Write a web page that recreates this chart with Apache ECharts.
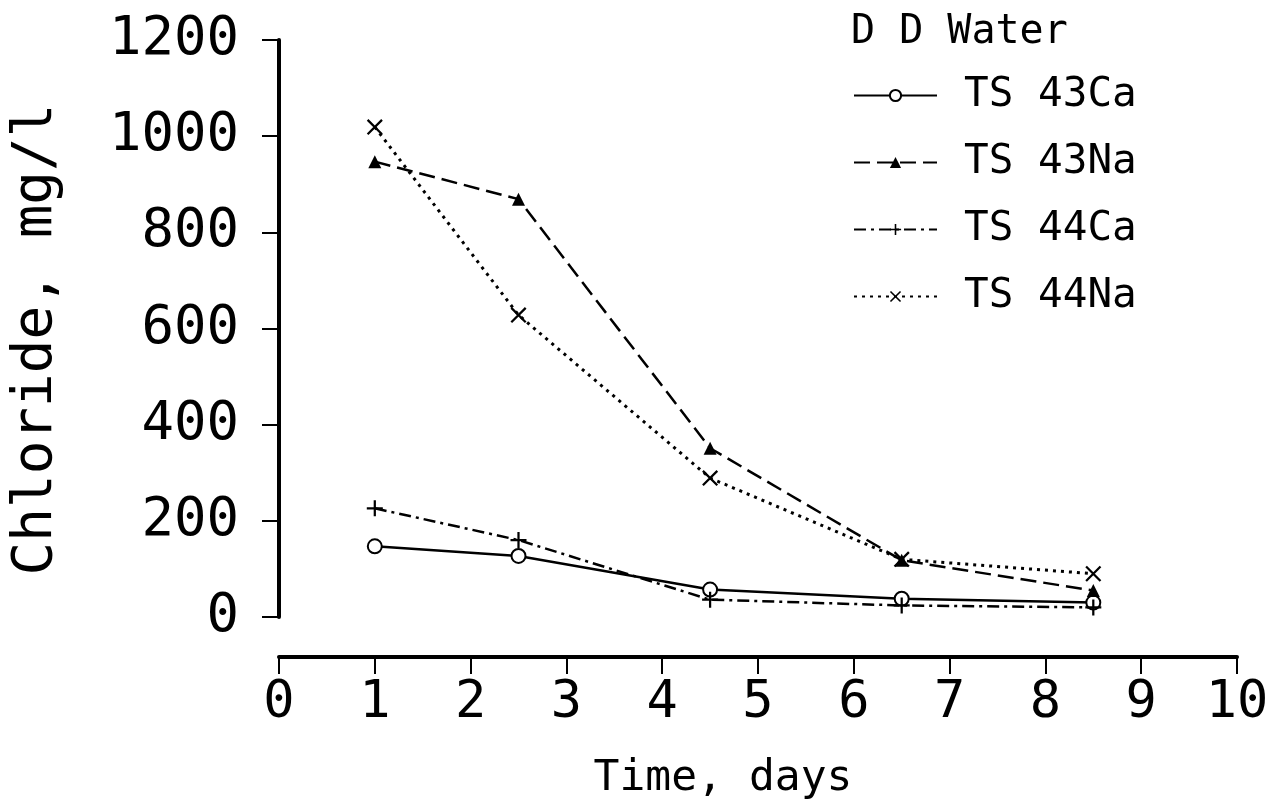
<!DOCTYPE html>
<html>
<head>
<meta charset="utf-8">
<script src="https://cdn.jsdelivr.net/npm/echarts@6/dist/echarts.min.js"></script>
<style>
html,body{margin:0;padding:0;background:#fff;}
#chart{width:1287px;height:805px;}
</style>
</head>
<body>
<div id="chart"></div>
<script>
// ---- data ----
const days = [1, 2.5, 4.5, 6.5, 8.5];
const ts43Ca = [147, 127, 57, 38, 30];
const ts43Na = [947, 869, 351, 118, 55];
const ts44Ca = [226, 160, 36, 24, 20];
const ts44Na = [1019, 628, 289, 120, 90];
const seriesNames = ['TS 43Ca', 'TS 43Na', 'TS 44Ca', 'TS 44Na'];
const legendTitle = 'D D Water';
const xName = 'Time, days';
const yName = 'Chloride, mg/l';

const FONT = '"DejaVu Sans Mono", "Liberation Mono", monospace';
const pairs = v => days.map((d, i) => [d, v[i]]);

const plusPath = 'path://M0,4.3H10V5.7H0Z M4.3,0H5.7V10H4.3Z';
const crossPath = 'path://M0,1L1,0L10,9L9,10Z M9,0L10,1L1,10L0,9Z';

const chart = echarts.init(document.getElementById('chart'));
chart.setOption({
  backgroundColor: '#fff',
  animation: false,
  title: {
    text: legendTitle,
    left: 846, top: 8,
    textStyle: {fontFamily: FONT, fontSize: 40, fontWeight: 'normal', color: '#000'}
  },
  legend: {
    orient: 'vertical',
    left: 848, top: 70,
    itemWidth: 83, itemHeight: 14,
    itemGap: 26,
    data: seriesNames,
    textStyle: {fontFamily: FONT, fontSize: 41, color: '#000', padding: [0, 0, 0, 22]}
  },
  grid: {left: 266, right: 50, top: 40, bottom: 183},
  xAxis: {
    type: 'value', min: 0, max: 10, interval: 1,
    offset: 40,
    name: xName, nameLocation: 'middle', nameGap: 100,
    nameTextStyle: {fontFamily: FONT, fontSize: 43, color: '#000', padding: [0, 70, 0, 0]},
    axisLine: {show: true, onZero: false, lineStyle: {color: '#000', width: 4}},
    axisTick: {show: true, length: 17, lineStyle: {color: '#000', width: 2}},
    axisLabel: {fontFamily: FONT, fontSize: 52, color: '#000', margin: 20},
    splitLine: {show: false}
  },
  yAxis: {
    type: 'value', min: 0, max: 1200, interval: 200,
    name: yName, nameLocation: 'middle', nameGap: 215,
    nameTextStyle: {fontFamily: FONT, fontSize: 56, color: '#000', padding: [0, 22, 0, 0]},
    axisLine: {show: true, lineStyle: {color: '#000', width: 4}},
    axisTick: {show: true, length: 17, lineStyle: {color: '#000', width: 2}},
    axisLabel: {fontFamily: FONT, fontSize: 54, color: '#000', margin: 40,
      formatter: v => String(v)},
    splitLine: {show: false}
  },
  series: [
    {
      name: seriesNames[0], type: 'line', data: pairs(ts43Ca),
      symbol: 'emptyCircle', symbolSize: 14,
      itemStyle: {color: '#000', borderColor: '#000', borderWidth: 2},
      lineStyle: {color: '#000', width: 2.5, type: 'solid'}
    },
    {
      name: seriesNames[1], type: 'line', data: pairs(ts43Na),
      symbol: 'triangle', symbolSize: 13,
      itemStyle: {color: '#000'},
      lineStyle: {color: '#000', width: 2.5, type: [16, 7]}
    },
    {
      name: seriesNames[2], type: 'line', data: pairs(ts44Ca),
      symbol: plusPath, symbolSize: 16,
      itemStyle: {color: '#000'},
      lineStyle: {color: '#000', width: 2.5, type: [12, 5, 3, 5]}
    },
    {
      name: seriesNames[3], type: 'line', data: pairs(ts44Na),
      symbol: crossPath, symbolSize: 16,
      itemStyle: {color: '#000'},
      lineStyle: {color: '#000', width: 3, type: [3, 5]}
    }
  ]
});
</script>
</body>
</html>
